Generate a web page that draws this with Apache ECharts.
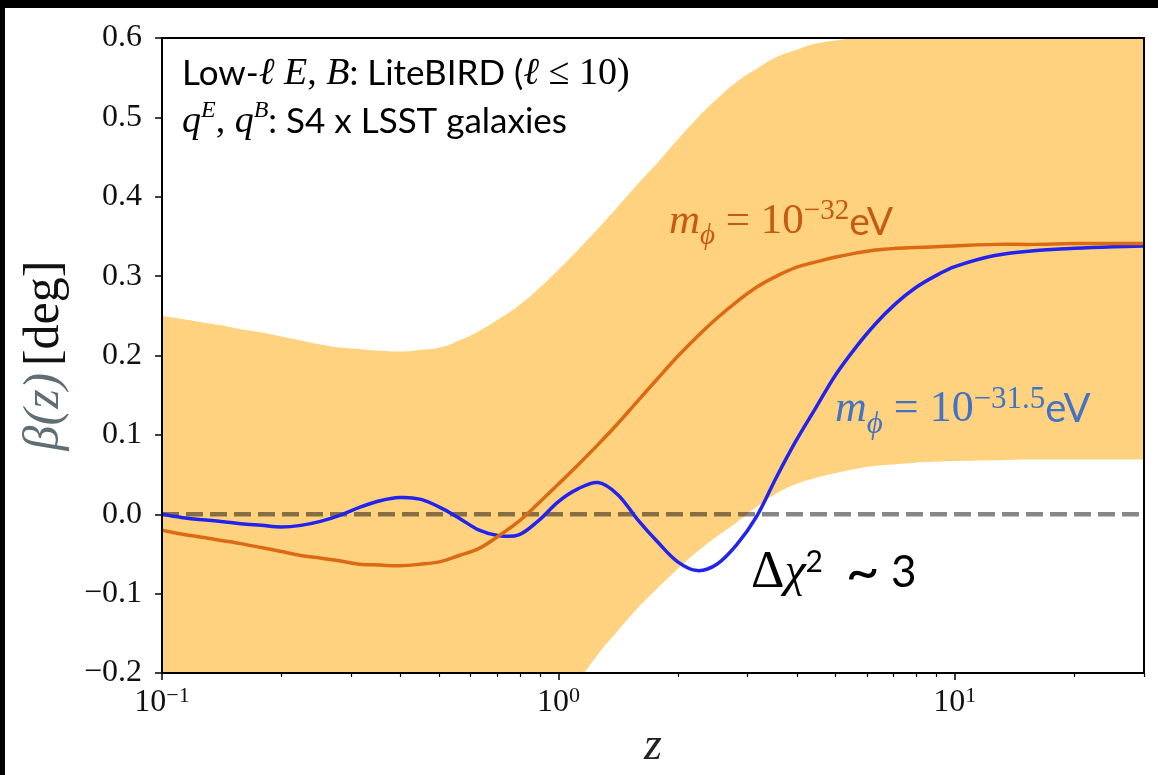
<!DOCTYPE html>
<html>
<head>
<meta charset="utf-8">
<script src="https://cdn.jsdelivr.net/npm/echarts@6/dist/echarts.min.js"></script>
<style>
html,body{margin:0;padding:0;background:#000;width:1158px;height:775px;overflow:hidden;}
#chart{position:absolute;left:5px;top:8px;width:1153px;height:767px;background:#fff;}
</style>
</head>
<body>
<div id="chart"></div>
<script>
// ---- data ----
const zValues = [0.1, 0.112, 0.126, 0.141, 0.158, 0.178, 0.2, 0.224, 0.251, 0.282,
                 0.316, 0.355, 0.398, 0.447, 0.501, 0.562, 0.631, 0.708, 0.794, 0.891,
                 1.0, 1.12, 1.26, 1.41, 1.58, 1.78, 2.0, 2.24, 2.51, 2.82,
                 3.16, 3.55, 3.98, 4.47, 5.01, 5.62, 6.31, 7.08, 7.94, 8.91,
                 10, 12.6, 15.8, 20, 25.1, 30];
const bandUpper = [0.250, 0.246, 0.242, 0.238, 0.233, 0.229, 0.224, 0.219, 0.214, 0.210,
                   0.208, 0.206, 0.205, 0.207, 0.210, 0.219, 0.231, 0.246, 0.263, 0.284,
                   0.308, 0.333, 0.360, 0.387, 0.415, 0.443, 0.472, 0.499, 0.523, 0.545,
                   0.561, 0.576, 0.585, 0.593, 0.597, 0.600, 0.602, 0.604, 0.605, 0.606,
                   0.607, 0.608, 0.609, 0.610, 0.610, 0.610];
const bandLower = [-0.290, -0.296, -0.298, -0.302, -0.306, -0.309, -0.316, -0.321, -0.326, -0.328,
                   -0.334, -0.334, -0.335, -0.334, -0.327, -0.320, -0.315, -0.297, -0.280, -0.258,
                   -0.238, -0.210, -0.176, -0.147, -0.119, -0.093, -0.069, -0.047, -0.028, -0.010,
                   0.009, 0.026, 0.038, 0.046, 0.052, 0.057, 0.061, 0.063, 0.065, 0.066,
                   0.067, 0.068, 0.069, 0.069, 0.069, 0.069];
const betaM32 = [-0.020, -0.025, -0.029, -0.033, -0.037, -0.042, -0.047, -0.052, -0.055, -0.059,
                 -0.063, -0.064, -0.065, -0.063, -0.060, -0.052, -0.043, -0.027, -0.009, 0.014,
                 0.038, 0.062, 0.088, 0.114, 0.142, 0.171, 0.199, 0.224, 0.247, 0.268,
                 0.286, 0.300, 0.311, 0.318, 0.324, 0.329, 0.333, 0.335, 0.336, 0.337,
                 0.338, 0.340, 0.340, 0.341, 0.341, 0.341];
const betaM315 = [0.000, -0.004, -0.007, -0.009, -0.012, -0.014, -0.016, -0.014, -0.009, -0.001,
                  0.009, 0.017, 0.021, 0.019, 0.009, -0.005, -0.020, -0.027, -0.026, -0.008,
                  0.016, 0.032, 0.040, 0.025, -0.006, -0.035, -0.060, -0.071, -0.063, -0.038,
                  -0.003, 0.047, 0.093, 0.135, 0.176, 0.210, 0.240, 0.265, 0.285, 0.300,
                  0.312, 0.326, 0.332, 0.335, 0.337, 0.338];
const zeroLineZ = [0.1, 30];
const zeroLineBeta = [0, 0];
const xMajorTicks = [0.1, 1, 10];
const xMinorTicks = [0.2, 0.3, 0.4, 0.5, 0.6, 0.7, 0.8, 0.9, 2, 3, 4, 5, 6, 7, 8, 9, 20, 30];
const yMin = -0.2, yMax = 0.6, yStep = 0.1;
const xMin = 0.1, xMax = 30;

const pair = (xs, ys) => xs.map((x, i) => [x, ys[i]]);

const sans = "Lato, 'Open Sans', sans-serif";
const serif = "'Liberation Serif', 'DejaVu Serif', serif";
const axisSerif = "'Liberation Serif', 'DejaVu Serif', serif";

function richSet(base, mathSize, sub, lh) {
  const half = Math.round(lh / 2);
  return {
    t:   {fontFamily: sans, fontSize: base, lineHeight: lh, verticalAlign: 'middle'},
    tl:  {fontFamily: sans, fontSize: Math.round(base * 1.35), lineHeight: lh, verticalAlign: 'middle'},
    mi:  {fontFamily: serif, fontStyle: 'italic', fontSize: mathSize, lineHeight: lh, verticalAlign: 'middle'},
    mu:  {fontFamily: serif, fontSize: mathSize, lineHeight: lh, verticalAlign: 'middle'},
    sup: {fontFamily: serif, fontSize: sub, lineHeight: half, verticalAlign: 'top'},
    supi:{fontFamily: serif, fontStyle: 'italic', fontSize: sub, lineHeight: half, verticalAlign: 'top'},
    supt:{fontFamily: sans, fontSize: sub, lineHeight: half, verticalAlign: 'top'},
    sub: {fontFamily: serif, fontStyle: 'italic', fontSize: sub, lineHeight: half, padding: [lh - half, 0, 0, 0], verticalAlign: 'top'}
  };
}

// smooth curve drawn through the cartesian coordinate system (api.coord)
function curveSeries(name, values, color, width, z) {
  const pts = pair(zValues, values);
  return {
    name: name, type: 'custom', coordinateSystem: 'cartesian2d', xAxisIndex: 0, yAxisIndex: 0,
    data: pts, encode: {x: 0, y: 1}, clip: true, z: z, silent: true,
    renderItem: function (params, api) {
      if (params.dataIndex !== 0) return null;
      const points = pts.map(function (p) { return api.coord(p); });
      return {
        type: 'polyline',
        shape: {points: points, smooth: 0.35},
        style: {stroke: color, lineWidth: width, fill: null, lineJoin: 'round', lineCap: 'butt'}
      };
    }
  };
}

const chart = echarts.init(document.getElementById('chart'), null, {renderer: 'canvas'});

const logAxisBase = {type: 'log', logBase: 10, min: xMin, max: xMax, splitLine: {show: false}, z: 10};

const option = {
  backgroundColor: '#fff',
  animation: false,
  grid: {left: 157, right: 14, top: 30, bottom: 102, containLabel: false},
  xAxis: [
    Object.assign({}, logAxisBase, {
      position: 'bottom',
      name: 'z',
      nameLocation: 'middle',
      nameGap: 48,
      nameTextStyle: {fontFamily: axisSerif, fontStyle: 'italic', fontSize: 46, color: '#222'},
      axisLine: {show: true, onZero: false, lineStyle: {color: '#000', width: 2}},
      axisTick: {show: true, inside: false, length: 7, lineStyle: {color: '#000', width: 1.5}, customValues: xMajorTicks},
      axisLabel: {
        show: true, margin: 12, customValues: xMajorTicks,
        formatter: function (v) {
          const e = Math.round(Math.log10(v));
          return '{b|10}{s|' + (e < 0 ? '\u2212' + (-e) : String(e)) + '}';
        },
        rich: {
          b: {fontFamily: axisSerif, fontSize: 32, lineHeight: 36, verticalAlign: 'middle', color: '#111'},
          s: {fontFamily: axisSerif, fontSize: 22, lineHeight: 22, verticalAlign: 'top', color: '#111'}
        }
      }
    }),
    Object.assign({}, logAxisBase, {
      position: 'bottom',
      axisLine: {show: false, onZero: false},
      axisTick: {show: true, inside: false, length: 4, lineStyle: {color: '#000', width: 1.2}, customValues: xMinorTicks},
      axisLabel: {show: false}
    }),
    Object.assign({}, logAxisBase, {
      position: 'top',
      axisLine: {show: true, onZero: false, lineStyle: {color: '#000', width: 2}},
      axisTick: {show: false},
      axisLabel: {show: false}
    })
  ],
  yAxis: [
    {
      type: 'value', min: yMin, max: yMax, interval: yStep, position: 'left', z: 10,
      splitLine: {show: false},
      name: '{g|\u03b2(z)}  {k|[deg]}',
      nameLocation: 'middle',
      nameRotate: 90,
      nameGap: 92,
      nameTextStyle: {
        rich: {
          g: {fontFamily: axisSerif, fontStyle: 'italic', fontSize: 50, color: '#5e6e74'},
          k: {fontFamily: axisSerif, fontSize: 50, color: '#111'}
        }
      },
      axisLine: {show: true, onZero: false, lineStyle: {color: '#000', width: 2}},
      axisTick: {show: true, inside: false, length: 7, lineStyle: {color: '#000', width: 1.5}},
      axisLabel: {
        show: true, margin: 20, fontFamily: axisSerif, fontSize: 32, color: '#111',
        formatter: function (v) {
          if (Math.abs(v) < 1e-9) v = 0;
          return (v < 0 ? '\u2212' : '') + Math.abs(v).toFixed(1);
        }
      }
    },
    {
      type: 'value', min: yMin, max: yMax, interval: yStep, position: 'right', z: 10,
      splitLine: {show: false},
      axisLine: {show: true, onZero: false, lineStyle: {color: '#000', width: 2}},
      axisTick: {show: false}, axisLabel: {show: false}
    }
  ],
  series: [
    {
      name: 'band upper', type: 'line', xAxisIndex: 0, yAxisIndex: 0,
      data: pair(zValues, bandUpper), smooth: 0.5, symbol: 'none', silent: true,
      lineStyle: {opacity: 0, width: 0}, areaStyle: {color: '#FFD27F', opacity: 1, origin: 'start'}, z: 1
    },
    {
      name: 'band lower', type: 'line', xAxisIndex: 0, yAxisIndex: 0,
      data: pair(zValues, bandLower), smooth: 0.5, symbol: 'none', silent: true,
      lineStyle: {opacity: 0, width: 0}, areaStyle: {color: '#ffffff', opacity: 1, origin: 'start'}, z: 2
    },
    {
      name: 'zero', type: 'line', xAxisIndex: 0, yAxisIndex: 0,
      data: pair(zeroLineZ, zeroLineBeta), symbol: 'none', silent: true,
      lineStyle: {color: 'rgba(0,0,0,0.47)', width: 4.5, type: [17, 7]}, z: 3
    },
    curveSeries('m_phi = 1e-31.5 eV', betaM315, '#2323EE', 3.5, 4),
    curveSeries('m_phi = 1e-32 eV', betaM32, '#DC6A12', 3.5, 5)
  ],
  graphic: [
    {
      type: 'text', x: 177, y: 66, z: 20,
      style: {
        text: '{t|Low-}{mi|\u2113 E}{mu|, }{mi|B}{t|: LiteBIRD (}{mi|\u2113}{mu| \u2264 10)}',
        rich: richSet(35, 38, 24, 46), fill: '#000', align: 'left', verticalAlign: 'middle'
      }
    },
    {
      type: 'text', x: 177, y: 114, z: 20,
      style: {
        text: '{mi|q}{supi|E}{mu|, }{mi|q}{supi|B}{t|: S4 x LSST galaxies}',
        rich: richSet(35, 38, 24, 46), fill: '#000', align: 'left', verticalAlign: 'middle'
      }
    },
    {
      type: 'text', x: 664, y: 214, z: 20,
      style: {
        text: '{mi|m}{sub|\u03d5}{mu| = 10}{sup|\u221232}{t|eV}',
        rich: richSet(39, 43, 29, 50), fill: '#C55A11', align: 'left', verticalAlign: 'middle'
      }
    },
    {
      type: 'text', x: 830, y: 401, z: 20,
      style: {
        text: '{mi|m}{sub|\u03d5}{mu| = 10}{sup|\u221231.5}{t|eV}',
        rich: richSet(40, 44, 31, 50), fill: '#4472C4', align: 'left', verticalAlign: 'middle'
      }
    },
    {
      type: 'text', x: 746, y: 565, z: 20,
      style: {
        text: '{mu|\u0394}{mi|\u03c7}{supt|2}{t|  }{tl|~}{t| 3}',
        rich: Object.assign(richSet(44, 48, 30, 52), {mu: {fontFamily: serif, fontSize: 52, lineHeight: 52, verticalAlign: 'middle'}}),
        fill: '#000', align: 'left', verticalAlign: 'middle'
      }
    }
  ]
};

chart.setOption(option);
</script>
</body>
</html>
